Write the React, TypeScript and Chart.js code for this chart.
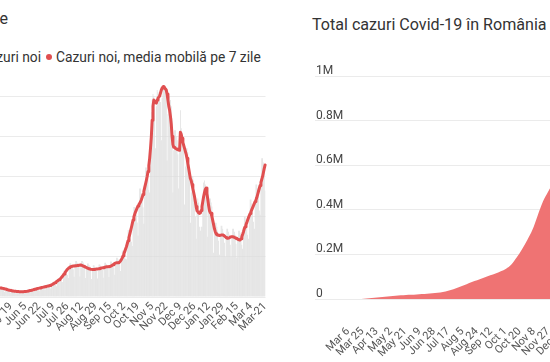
import React, { useEffect, useRef } from 'react';
import { Chart, registerables } from 'chart.js';

Chart.register(...registerables);

// ---------- Left chart: daily new cases (Feb 24 2020 – Mar 21 2021) ----------
const leftStartDate = '2020-02-24';

const dailyCases = [
  0, 0, 1, 0, 2, 0, 0,
  0, 0, 1, 1, 0, 4, 2,
  2, 6, 5, 11, 8, 10, 15,
  8, 45, 37, 18, 47, 64, 66,
  143, 186, 144, 170, 263, 308, 293,
  214, 264, 191, 252, 354, 446, 294,
  193, 268, 317, 440, 361, 325, 346,
  247, 456, 360, 417, 405, 421, 243,
  308, 364, 434, 396, 401, 309, 314,
  289, 325, 269, 345, 372, 265, 359,
  290, 420, 510, 505, 485, 460, 420,
  250, 370, 450, 450, 430, 410, 370,
  200, 295, 355, 355, 340, 325, 295,
  175, 255, 310, 310, 295, 285, 255,
  170, 250, 305, 305, 290, 280, 250,
  200, 295, 355, 355, 340, 325, 295,
  245, 360, 435, 435, 420, 400, 360,
  300, 435, 530, 530, 505, 485, 435,
  350, 515, 620, 620, 595, 565, 515,
  415, 610, 735, 735, 705, 670, 610,
  535, 780, 945, 945, 900, 860, 780,
  750, 1090, 1320, 1320, 1265, 1210, 1090,
  950, 1385, 1680, 1680, 1605, 1535, 1385,
  1010, 1475, 1790, 1790, 1710, 1635, 1475,
  1015, 1480, 1795, 1795, 1715, 1640, 1480,
  940, 1380, 1670, 1670, 1595, 1520, 1380,
  895, 1305, 1580, 1580, 1510, 1445, 1305,
  915, 1340, 1620, 1620, 1550, 1480, 1340,
  960, 1405, 1700, 1700, 1630, 1555, 1405,
  1000, 1465, 1770, 1770, 1695, 1615, 1465,
  1105, 1615, 1955, 1955, 1870, 1785, 1615,
  1300, 1900, 2300, 2300, 2200, 2100, 1900,
  1885, 2755, 3335, 3335, 3190, 3045, 2755,
  2535, 3705, 4485, 4485, 4290, 4095, 3705,
  3055, 4465, 5405, 5405, 5170, 4935, 4465,
  3640, 5320, 6440, 6440, 6160, 5880, 5320,
  5200, 7400, 9200, 9800, 10100, 10000, 9600,
  7400, 9500, 10300, 10200, 10100, 10000, 9700,
  7800, 9900, 10500, 10500, 10400, 10300, 10000,
  6800, 9100, 9900, 10000, 9800, 9500, 8900,
  5200, 7300, 8300, 8300, 8000, 7800, 7100,
  5400, 7600, 9300, 8400, 8200, 7900, 7300,
  4600, 6500, 7400, 7400, 7200, 6900, 6300,
  3700, 5200, 6000, 6000, 5800, 5200, 4000,
  2900, 4300, 4900, 4700, 3500, 3300, 3500,
  3500, 5000, 5700, 5800, 5600, 5300, 4600,
  3000, 4300, 4900, 4900, 4700, 4500, 3800,
  2200, 3200, 3700, 3700, 3500, 3300, 2800,
  2100, 3050, 3550, 3550, 3400, 3200, 2700,
  2000, 2950, 3400, 3400, 3250, 3100, 2600,
  2000, 2950, 3400, 3400, 3250, 3100, 2650,
  1950, 2850, 3300, 3300, 3200, 3100, 2600,
  2400, 3450, 4000, 4000, 3850, 3700, 3100,
  2900, 4200, 4850, 4850, 4650, 4400, 3750,
  3400, 4800, 5600, 5600, 5400, 5200, 4300,
  4100, 5900, 6900, 6900, 6700, 6500, 5300,
];

const movingAverage7 = [
  0, 0, 0, 1, 1, 1, 1, 1, 1, 1, 1,
  2, 3, 4, 5, 6, 8, 10, 12, 15, 17,
  20, 25, 30, 36, 42, 50, 60, 75, 90, 110,
  130, 155, 180, 200, 220, 240, 260, 280, 300, 310,
  320, 330, 340, 350, 360, 365, 370, 375, 380, 385,
  390, 390, 385, 380, 375, 370, 368, 366, 368, 372,
  380, 390, 400, 410, 420, 430, 435, 440, 445, 448, 450,
  450, 445, 440, 430, 420, 410, 400, 390, 375, 360, 350, 340, 330, 320,
  310, 300, 295, 290, 285, 280, 275, 270, 268, 265, 264, 262, 262, 263,
  265, 268, 270, 275, 280, 290, 300, 310, 320, 330, 340, 350, 360, 375,
  390, 400, 410, 420, 430, 440, 450, 460, 470, 480, 490, 500, 510, 520,
  530, 540, 550, 560, 570, 590, 610, 630, 650, 680, 710, 740, 770, 800,
  830, 860, 890, 930, 980, 1030, 1090, 1150, 1210, 1270, 1330, 1380, 1420, 1460,
  1490, 1510, 1520, 1530, 1540, 1545, 1550, 1555, 1560, 1565, 1570, 1580, 1590, 1590,
  1580, 1560, 1540, 1520, 1500, 1480, 1460, 1440, 1420, 1400, 1390, 1380, 1375, 1370,
  1370, 1375, 1380, 1385, 1390, 1395, 1400, 1410, 1420, 1430, 1440, 1450, 1460, 1470,
  1480, 1490, 1500, 1505, 1510, 1515, 1520, 1530, 1550, 1580, 1610, 1640, 1670, 1690,
  1700, 1705, 1710, 1720, 1750, 1800, 1870, 1950, 2050, 2160, 2270, 2390, 2500, 2650,
  2800, 2960, 3120, 3290, 3460, 3640, 3830, 3990, 4120, 4240, 4340, 4440, 4530, 4600,
  4660, 4740, 4840, 4960, 5100, 5260, 5440, 5620, 5800, 6000, 6250, 6550, 6900, 7400,
  7975, 8800, 9500, 9800, 9750, 9700, 9650, 9800, 9900, 9950, 10000, 10150, 10300, 10400,
  10460, 10480, 10420, 10350, 10300, 10100, 9800, 9500, 9300, 9000, 8600, 8000, 7600, 7450,
  7450, 7400, 7380, 7350, 7330, 7310, 7300, 8200, 8100, 7900, 7700, 7550, 7400, 7250,
  7100, 6900, 6650, 6400, 6150, 5900, 5800, 5600, 5400, 5200, 5000, 4750, 4500, 4300,
  4250, 4180, 4160, 4180, 4300, 4500, 4750, 5000, 5200, 5350, 5420, 5150, 4850, 4550,
  4300, 4200, 4163, 4000, 3800, 3600, 3400, 3250, 3150, 3100, 3085, 3070, 3060, 3070,
  3080, 3090, 3085, 3070, 3040, 3000, 2960, 2930, 2920, 2930, 2950, 2980, 3000, 3000,
  3000, 2990, 2970, 2950, 2920, 2900, 2880, 2860, 2840, 2836, 2900, 3000, 3120, 3250,
  3400, 3500, 3600, 3700, 3830, 3950, 4050, 4150, 4250, 4350, 4450, 4550, 4650, 4750,
  4830, 4950, 5100, 5250, 5400, 5550, 5700, 5850, 6000, 6200, 6400, 6570,
];

const leftTickStep = 17;
const leftTickLabels = [
  'Feb 24', 'Mar 12', 'Mar 29', 'Apr 15', 'May 2', 'May 19', 'Jun 5', 'Jun 22',
  'Jul 9', 'Jul 26', 'Aug 12', 'Aug 29', 'Sep 15', 'Oct 2', 'Oct 19', 'Nov 5',
  'Nov 22', 'Dec 9', 'Dec 26', 'Jan 12', 'Jan 29', 'Feb 15', 'Mar 4', 'Mar-21',
];
const leftYTicks = [0, 2000, 4000, 6000, 8000, 10000];
const leftYLabels = ['0', '2.000', '4.000', '6.000', '8.000', '10.000'];

// ---------- Right chart: cumulative cases (days counted from Mar 6 2020) ----------
const totalDays = [
  -44, -9, 0, 7, 14, 21, 28, 35, 42, 49, 56, 63, 70, 77, 84, 91, 98, 105, 112, 119,
  126, 133, 140, 147, 154, 161, 168, 175, 182, 189, 196, 203, 210, 217, 224, 231,
  238, 245, 252, 259, 266, 273, 280, 287, 294, 301, 308, 315, 322, 329, 336, 343,
  350, 357, 364, 371, 378, 380,
];
const totalCases = [
  0, 1, 6, 89, 308, 1292, 3183, 5467, 8067, 10417, 12567, 14811, 16704, 18070, 19133,
  20290, 21999, 23400, 25286, 28166, 31381, 36691, 43678, 52256, 61768, 72000, 80500,
  89000, 97500, 106000, 114000, 124000, 136000, 155000, 186000, 222000, 263000, 310000,
  375000, 437000, 482000, 525000, 562000, 595000, 617000, 634000, 660000, 688000,
  710000, 730000, 750000, 771000, 791000, 815000, 845000, 880000, 920000, 932000,
];
const rightTickDays = [0, 19, 38, 57, 76, 95, 114, 133, 152, 171, 190, 209, 228, 247, 266, 285, 304, 323, 342, 361, 380];
const rightTickLabels = [
  'Mar 6', 'Mar 25', 'Apr 13', 'May 2', 'May 21', 'Jun 9', 'Jun 28', 'Jul 17', 'Aug 5',
  'Aug 24', 'Sep 12', 'Oct 1', 'Oct 20', 'Nov 8', 'Nov 27', 'Dec 16', 'Jan 4', 'Jan 23',
  'Feb 11', 'Mar 2', 'Mar-21',
];
const rightYTicks = [0, 200000, 400000, 600000, 800000, 1000000];
const rightYLabels = ['0', '0.2M', '0.4M', '0.6M', '0.8M', '1M'];

const MONTHS = ['Jan', 'Feb', 'Mar', 'Apr', 'May', 'Jun', 'Jul', 'Aug', 'Sep', 'Oct', 'Nov', 'Dec'];
function dayLabels(start: string, count: number): string[] {
  const base = new Date(start + 'T00:00:00Z').getTime();
  const out: string[] = [];
  for (let i = 0; i < count; i++) {
    const d = new Date(base + i * 86400000);
    out.push(MONTHS[d.getUTCMonth()] + ' ' + d.getUTCDate());
  }
  return out;
}

const FONT = 'Roboto, "Noto Sans", sans-serif';
const LINE_RED = '#e04f50';
const AREA_RED = '#ef7373';
const GRID = '#ebebeb';
const TICK = '#555555';

export default function App() {
  const leftRef = useRef<HTMLCanvasElement>(null);
  const rightRef = useRef<HTMLCanvasElement>(null);

  useEffect(() => {
    Chart.defaults.font.family = FONT;
    const labels = dayLabels(leftStartDate, dailyCases.length);

    const left = new Chart(leftRef.current as HTMLCanvasElement, {
      type: 'bar',
      data: {
        labels,
        datasets: [
          {
            type: 'line',
            data: movingAverage7,
            borderColor: LINE_RED,
            borderWidth: 3,
            pointRadius: 0,
            borderJoinStyle: 'round',
            borderCapStyle: 'round',
            order: 0,
          } as any,
          {
            type: 'bar',
            data: dailyCases,
            backgroundColor: '#dddddd',
            barPercentage: 1,
            categoryPercentage: 0.85,
            order: 1,
          } as any,
        ],
      },
      options: {
        animation: false,
        responsive: false,
        layout: { padding: { left: 10, right: 9.5, top: 6, bottom: 0 } },
        plugins: { legend: { display: false }, tooltip: { enabled: false }, title: { display: false } },
        scales: {
          x: {
            grid: { display: false, drawTicks: false },
            border: { display: false },
            ticks: {
              autoSkip: false,
              minRotation: 45,
              maxRotation: 45,
              padding: 3,
              color: TICK,
              font: { size: 11 },
              callback: (v: any) => leftTickLabels[Math.round(Number(v) / leftTickStep)],
            },
            afterBuildTicks: (s: any) => {
              s.ticks = s.ticks.filter((t: any) => t.value % leftTickStep === 0);
            },
            afterFit: (s: any) => {
              s.height = 73;
              s.paddingLeft = 0;
              s.paddingRight = 0;
            },
          },
          y: {
            min: 0,
            max: 11000,
            grid: { color: GRID, drawTicks: false },
            border: { display: false },
            ticks: {
              mirror: true,
              padding: 0,
              labelOffset: -6,
              color: TICK,
              font: { size: 12 },
              callback: (v: any) => leftYLabels[leftYTicks.indexOf(Number(v))],
            },
            afterBuildTicks: (s: any) => {
              s.ticks = leftYTicks.map((v) => ({ value: v }));
            },
            afterFit: (s: any) => {
              s.width = 0;
              s.paddingTop = 0;
              s.paddingBottom = 0;
            },
          },
        },
      },
    });

    const right = new Chart(rightRef.current as HTMLCanvasElement, {
      type: 'line',
      data: {
        datasets: [
          {
            data: totalDays.map((t, i) => ({ x: t, y: totalCases[i] })),
            fill: 'origin',
            backgroundColor: AREA_RED,
            borderWidth: 0,
            pointRadius: 0,
            cubicInterpolationMode: 'monotone',
          } as any,
        ],
      },
      options: {
        animation: false,
        responsive: false,
        layout: { padding: { left: 15, right: 3, top: 16, bottom: 0 } },
        plugins: { legend: { display: false }, tooltip: { enabled: false }, title: { display: false } },
        scales: {
          x: {
            type: 'linear',
            min: -44,
            max: 384,
            grid: { display: false, drawTicks: false },
            border: { display: false },
            ticks: {
              autoSkip: false,
              minRotation: 45,
              maxRotation: 45,
              padding: 26,
              color: TICK,
              font: { size: 11 },
              callback: (v: any) => rightTickLabels[rightTickDays.indexOf(Number(v))],
            },
            afterBuildTicks: (s: any) => {
              s.ticks = rightTickDays.map((v) => ({ value: v }));
            },
            afterFit: (s: any) => {
              s.height = 71;
              s.paddingLeft = 0;
              s.paddingRight = 0;
            },
          },
          y: {
            min: 0,
            max: 1000000,
            grid: { color: GRID, drawTicks: false },
            border: { display: false },
            ticks: {
              mirror: true,
              padding: 1,
              labelOffset: -5,
              color: '#444444',
              font: { size: 12 },
              callback: (v: any) => rightYLabels[rightYTicks.indexOf(Number(v))],
            },
            afterBuildTicks: (s: any) => {
              s.ticks = rightYTicks.map((v) => ({ value: v }));
            },
            afterFit: (s: any) => {
              s.width = 0;
              s.paddingTop = 0;
              s.paddingBottom = 0;
            },
          },
        },
      },
    });

    return () => {
      left.destroy();
      right.destroy();
    };
  }, []);

  const titleStyle: React.CSSProperties = {
    position: 'absolute',
    fontFamily: FONT,
    fontSize: 16.1,
    lineHeight: '20px',
    color: '#333333',
    whiteSpace: 'nowrap',
  };
  const legendStyle: React.CSSProperties = {
    position: 'absolute',
    fontFamily: FONT,
    fontSize: 13.8,
    lineHeight: '18px',
    color: '#333333',
    whiteSpace: 'nowrap',
    top: 48,
  };
  const dot = (c: string): React.CSSProperties => ({
    display: 'inline-block',
    width: 6,
    height: 6,
    borderRadius: 3,
    background: c,
    marginRight: 4,
    verticalAlign: 'middle',
    position: 'relative',
    top: -1,
  });

  return (
    <div
      style={{
        position: 'fixed',
        left: 0,
        top: 0,
        width: 550,
        height: 362,
        overflow: 'hidden',
        background: '#ffffff',
      }}
    >
      <div style={{ ...titleStyle, left: -400, width: 408, top: 9, textAlign: 'right' }}>
        Cazuri noi de Covid-19 în România, pe zile
      </div>
      <div style={{ ...legendStyle, right: 509, textAlign: 'right' }}>
        <span style={dot('#cccccc')} />
        Cazuri noi
      </div>
      <div style={{ ...legendStyle, left: 46 }}>
        <span style={dot(LINE_RED)} />
        Cazuri noi, media mobilă pe 7 zile
      </div>
      <canvas
        ref={leftRef}
        width={345}
        height={300}
        style={{ position: 'absolute', left: -70, top: 70, width: 345, height: 300 }}
      />
      <div style={{ ...titleStyle, left: 312, top: 15 }}>Total cazuri Covid-19 în România</div>
      <canvas
        ref={rightRef}
        width={340}
        height={310}
        style={{ position: 'absolute', left: 300, top: 60, width: 340, height: 310 }}
      />
    </div>
  );
}
